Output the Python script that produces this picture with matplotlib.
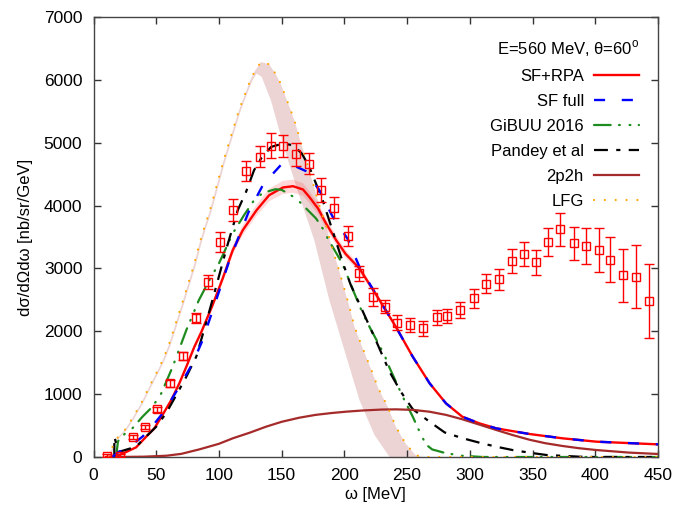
import matplotlib
import matplotlib.pyplot as plt
import numpy as np

matplotlib.use("Agg")

plt.rcParams["font.family"] = ["Liberation Sans", "DejaVu Sans"]
plt.rcParams["mathtext.fontset"] = "custom"
plt.rcParams["mathtext.rm"] = "Liberation Sans"
plt.rcParams["lines.scale_dashes"] = False

# measured cross section (data points with errors)
data_w = [11, 21, 31.5, 41, 51, 61, 71, 81.5, 91, 101, 111.5, 121.5, 132.5, 141.5,
          151, 161.5, 171.5, 181, 191.5, 202.5, 212, 222.5, 232.5, 242, 252.5, 263,
          273.5, 282, 292.5, 303, 313, 323.5, 333.5, 343, 353, 362, 371.5, 383, 393,
          403, 412, 422, 432.5, 443]
data_v = [20, 20, 323, 482, 758, 1170, 1611, 2215, 2778, 3423, 3927, 4547, 4774, 4949,
          4949, 4817, 4669, 4245, 3969, 3513, 2920, 2549, 2390, 2135, 2099, 2045,
          2220, 2247, 2337, 2522, 2760, 2825, 3121, 3227, 3095, 3423, 3620, 3398, 3355,
          3290, 3140, 2893, 2866, 2485]
data_err = [20, 20, 30, 35, 40, 53, 61, 80, 111, 154, 172, 159, 167, 199,
            178, 180, 172, 191, 172, 159, 124, 146, 106, 122, 106, 119,
            122, 108, 127, 153, 150, 167, 190, 190, 200, 223, 260, 265, 290,
            350, 355, 424, 502, 588]

# SF+RPA
rpa_w = [10, 18, 25, 34, 42, 48.5, 55, 62, 68.4, 74, 80.4, 86, 95, 103, 111, 119, 130,
         140, 151, 159, 167, 172, 179, 185.4, 193.4, 201, 212, 228, 241, 254.5, 268,
         281, 294, 307.6, 321, 347.5, 374, 400.7, 450]
rpa_v = [0, 10, 70, 154, 323, 456, 668, 906, 1171, 1436, 1753, 1990, 2420, 2841, 3291,
         3609, 3927, 4165, 4288, 4308, 4256, 4138, 3954, 3715, 3450, 3230, 3000, 2496,
         2072, 1595, 1171, 853, 641, 535, 456, 366, 297, 244, 201]
rpa_err = [0, 0, 0, 0, 5, 10, 15, 20, 25, 30, 35, 40, 50, 60, 70, 80, 90,
           100, 105, 105, 100, 95, 90, 85, 75, 65, 55, 40, 30, 20, 15,
           10, 5, 5, 5, 5, 5, 5, 5]

# SF full
sf_w = [15, 20, 26, 39, 44.5, 56.5, 68.4, 79, 87, 97, 107.7, 116, 123.7, 135.4, 150,
        158, 169, 180, 190.7, 202.6, 212, 228, 241, 254.5, 268, 281, 294, 307.6, 321,
        347.5, 374, 400.7, 450]
sf_v = [0, 80, 122, 323, 429, 730, 1118, 1490, 1860, 2450, 3089, 3514, 3900, 4340, 4660,
        4650, 4552, 4245, 3820, 3470, 3025, 2496, 2072, 1595, 1171, 853, 641, 535, 456,
        366, 297, 244, 201]

# GiBUU 2016
gibuu_w = [18, 19.5, 25, 31, 39, 47, 54, 63, 74, 84, 92, 100, 111, 120, 128, 135, 145,
           150, 157, 163, 169.5, 177.4, 182.7, 186.7, 196, 200, 207, 214.6, 220, 232,
           236, 247, 254.5, 260, 265, 270, 281, 294, 310, 450]
gibuu_v = [0, 250, 370, 456, 640, 800, 1012, 1430, 2019, 2496, 2800, 3080, 3556, 3847,
           4086, 4202, 4260, 4250, 4170, 4086, 3954, 3795, 3636, 3477, 3159, 3000, 2650,
           2285, 2072, 1620, 1420, 938, 641, 400, 200, 120, 60, 20, 0, 0]

# Pandey et al
pandey_w = [16.6, 16.6, 20, 34, 40.5, 50, 58, 66, 74, 82, 90, 99, 106, 115, 121.6, 128,
            133.6, 141.5, 151, 159, 166, 172, 182.7, 193, 200, 205, 210.6, 225, 236, 245,
            254.5, 268, 280, 294, 307.6, 321, 334, 347.5, 361, 387, 400, 450]
pandey_v = [0, 320, 80, 164, 297, 482, 700, 986, 1277, 1600, 2150, 2800, 3318, 3927,
            4218, 4563, 4750, 4933, 4987, 4960, 4830, 4615, 4086, 3450, 3020, 2740, 2496,
            1860, 1356, 1038, 760, 560, 390, 300, 228, 164, 111, 69, 32, 5, 0, 0]

# 2p2h
mec_w = [18, 40, 58, 70, 84.5, 100, 111, 125, 137.5, 150, 164, 177, 190, 202, 214.6,
         230, 241, 254.5, 268, 281, 294, 307.6, 321, 334, 347.5, 360, 374, 387, 400.7,
         427, 450]
mec_v = [0, 5, 20, 50, 122, 210, 297, 390, 482, 560, 625, 670, 700, 722, 740, 755, 758,
         750, 720, 670, 600, 515, 430, 350, 275, 220, 175, 140, 111, 70, 48]

# LFG and the inner edge of its band
lfg_w = [12, 17, 25, 31, 38, 44.5, 50, 55, 60, 70, 80, 84.5, 88.5, 92.5, 96.5, 103,
         108, 116, 122, 125, 129, 133.6, 140, 145, 149, 152, 155, 158, 161, 165.5, 168,
         175, 180, 185, 190, 195, 204, 208, 214.6, 221, 227, 234.5, 241, 248.6, 256.6,
         262, 450]
lfg_v = [0, 260, 430, 615, 854, 1118, 1330, 1530, 1780, 2400, 3050, 3397, 3662, 3900,
         4192, 4669, 5000, 5517, 5835, 5994, 6153, 6285, 6248, 6100, 5951, 5791, 5633,
         5474, 5300, 4987, 4828, 4351, 4006, 3700, 3344, 3020, 2390, 2072, 1728, 1410,
         1092, 800, 482, 218, 32, 0, 0]
band_w = [13.5, 18.5, 26.5, 32.5, 39.5, 46, 51.5, 56.5, 61.5, 71.5, 81.5, 86, 90, 94,
          98, 104.5, 109.5, 117.5, 123.5, 127, 130, 134, 141.5, 148, 155, 165, 176, 188,
          200, 212, 224, 236]
band_v = [0, 260, 430, 615, 854, 1118, 1330, 1530, 1780, 2400, 3050, 3397, 3662, 3900,
          4192, 4669, 5000, 5517, 5835, 6000, 6100, 6050, 5670, 5200, 4720, 4100, 3450,
          2496, 1700, 906, 350, 0]

fig = plt.figure(figsize=(6.76, 5.08), dpi=100)
ax = fig.add_axes([93.5 / 676, 51 / 508, 564.5 / 676, 440 / 508])

# shaded bands
ax.fill(np.r_[lfg_w[:-1], band_w[::-1]], np.r_[lfg_v[:-1], band_v[::-1]],
        color="#a52a2a", alpha=0.2, lw=0, zorder=1)
rw, rv, re = map(np.asarray, (rpa_w, rpa_v, rpa_err))
ax.fill(np.r_[rw, rw[::-1]], np.r_[rv + re, (rv - re)[::-1]],
        color="#ff0000", alpha=0.15, lw=0, zorder=1)

ax.plot(rpa_w, rpa_v, color="#ff0000", lw=1.7, label="SF+RPA", zorder=3)
ax.plot(sf_w, sf_v, color="#0000ff", lw=1.7, dashes=(8, 12), label="SF full", zorder=4)
ax.plot(gibuu_w, gibuu_v, color="#1e8b1e", lw=1.6,
        dashes=(12, 6, 0.6, 7, 0.6, 6), dash_capstyle="round", label="GiBUU 2016", zorder=3)
ax.plot(pandey_w, pandey_v, color="black", lw=1.6,
        dashes=(10, 6, 3, 6), label="Pandey et al", zorder=3)
ax.plot(mec_w, mec_v, color="#a52a2a", lw=1.6, label="2p2h", zorder=3)
ax.plot(lfg_w, lfg_v, color="#ffa500", lw=1.6,
        dashes=(0.01, 7.8), dash_capstyle="round", label="LFG", zorder=3)

ax.errorbar(data_w, data_v, yerr=data_err, fmt="s", ms=5.5, mfc="none", mec="#ff0000",
            mew=1.0, ecolor="#ff0000", elinewidth=1.0, capsize=3.5, capthick=1.0, zorder=5)

ax.set_xlim(0, 450)
ax.set_ylim(0, 7000)
ax.set_xticks(np.arange(0, 451, 50))
ax.set_yticks(np.arange(0, 7001, 1000))
ax.tick_params(direction="in", length=5, width=1, top=True, right=True,
               labelsize=12.5, colors="#333333", labelcolor="black", pad=8)
for s in ax.spines.values():
    s.set_color("#444444")
    s.set_linewidth(1)

ax.set_xlabel("ω [MeV]", fontsize=12, labelpad=3)
ax.set_ylabel("dσ/dΩdω [nb/sr/GeV]", fontsize=12, labelpad=8)

leg = ax.legend(loc="upper right", bbox_to_anchor=(0.966, 0.952), frameon=False,
                markerfirst=False, fontsize=12, title="E=560 MeV, θ=60$^{\\rm o}$",
                title_fontsize=12, handlelength=2.7, handletextpad=0.6,
                labelspacing=0.6, borderpad=0, borderaxespad=0, alignment="right")

fig.savefig("out.png", dpi=100)
